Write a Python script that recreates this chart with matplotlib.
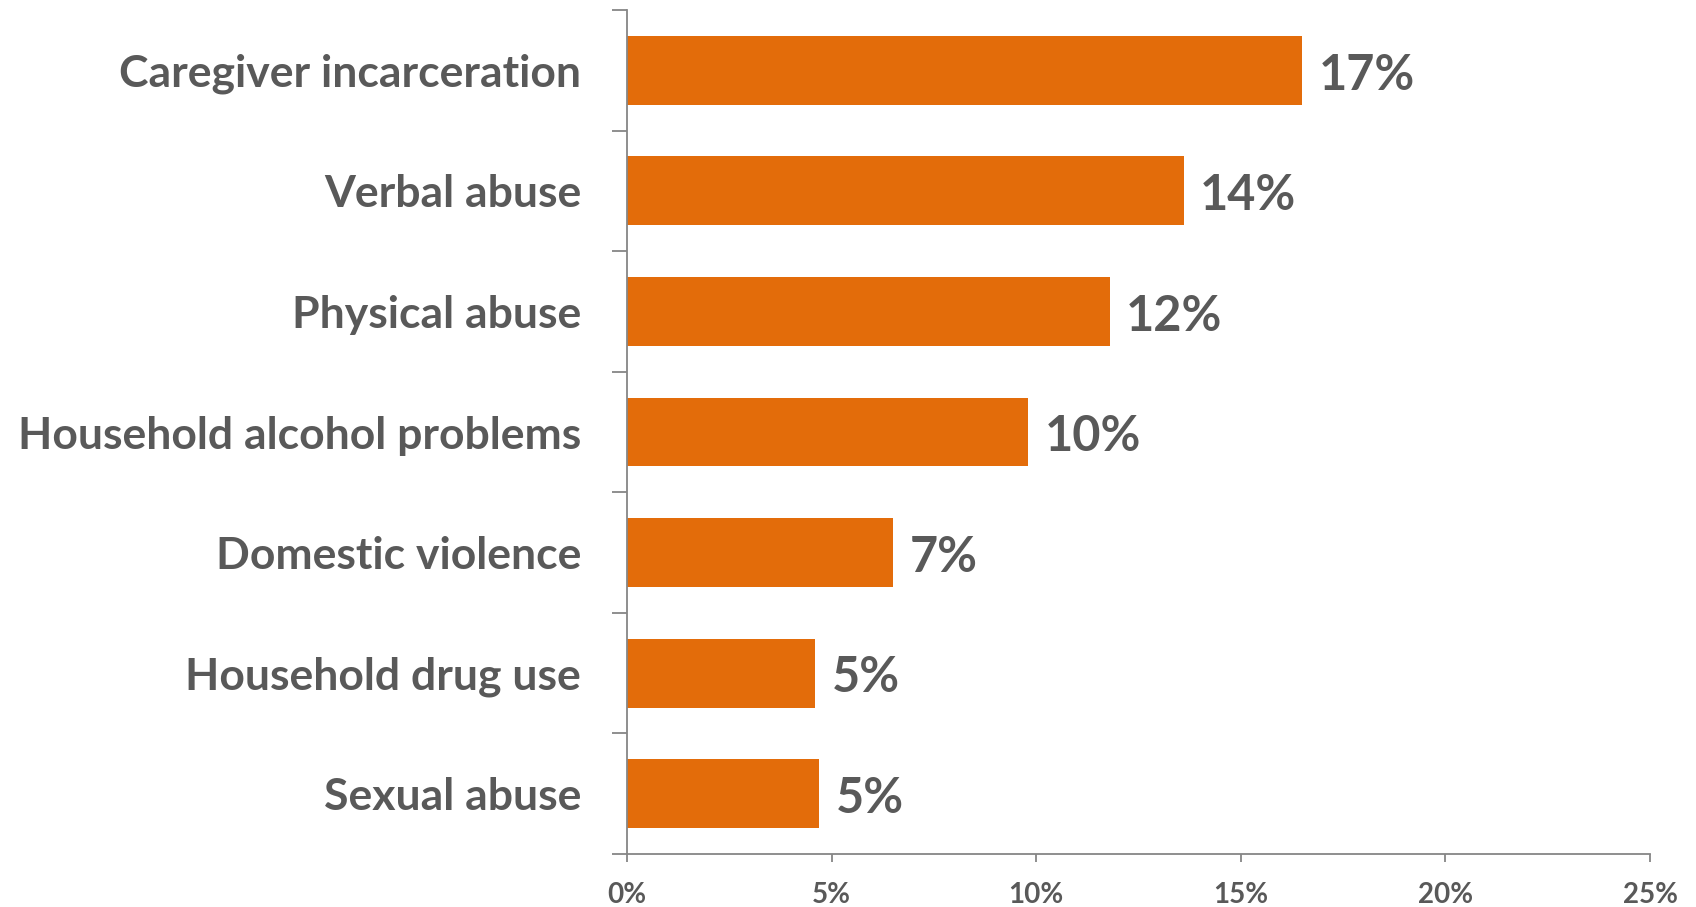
import matplotlib.pyplot as plt
from matplotlib.ticker import FixedLocator

categories = ['Caregiver incarceration', 'Verbal abuse', 'Physical abuse',
              'Household alcohol problems', 'Domestic violence',
              'Household drug use', 'Sexual abuse']
values = [16.5, 13.6, 11.8, 9.8, 6.5, 4.6, 4.7]
labels = ['17%', '14%', '12%', '10%', '7%', '5%', '5%']
xticks = [0, 5, 10, 15, 20, 25]

bar_color = '#E36C0A'
text_color = '#595959'
axis_color = '#868686'
font = 'Lato'

fig = plt.figure(figsize=(16.96, 9.07), dpi=100)
ax = fig.add_axes([0.3697, 0.0584, 0.9729 - 0.3697, 0.989 - 0.0584])

ypos = list(range(len(categories)))
ax.barh(ypos, values, height=0.57, color=bar_color)

for y, v, lab in zip(ypos, values, labels):
    ax.text(v + 0.4, y + 0.04, lab, va='center', ha='left', fontsize=35,
            fontweight='bold', color=text_color, family=font)

ax.set_xlim(0, 25)
ax.set_ylim(len(categories) - 0.5, -0.5)

ax.set_xticks(xticks)
ax.set_xticklabels([f'{t}%' for t in xticks])
ax.set_yticks(ypos)
ax.set_yticklabels(categories)
ax.yaxis.set_minor_locator(FixedLocator([i - 0.5 for i in range(len(categories) + 1)]))

for lab in ax.get_yticklabels():
    lab.set_fontsize(32)
    lab.set_fontweight('bold')
    lab.set_color(text_color)
    lab.set_family(font)
for lab in ax.get_xticklabels():
    lab.set_fontsize(20)
    lab.set_fontweight('bold')
    lab.set_color(text_color)
    lab.set_family(font)

ax.tick_params(axis='y', which='major', length=0, pad=33)
ax.tick_params(axis='y', which='minor', length=11, width=1.3, color=axis_color)
ax.tick_params(axis='x', which='major', length=6, width=1.3, color=axis_color, pad=14)

for side in ['top', 'right']:
    ax.spines[side].set_visible(False)
for side in ['left', 'bottom']:
    ax.spines[side].set_color(axis_color)
    ax.spines[side].set_linewidth(1.3)

fig.savefig('out.png', dpi=100)
